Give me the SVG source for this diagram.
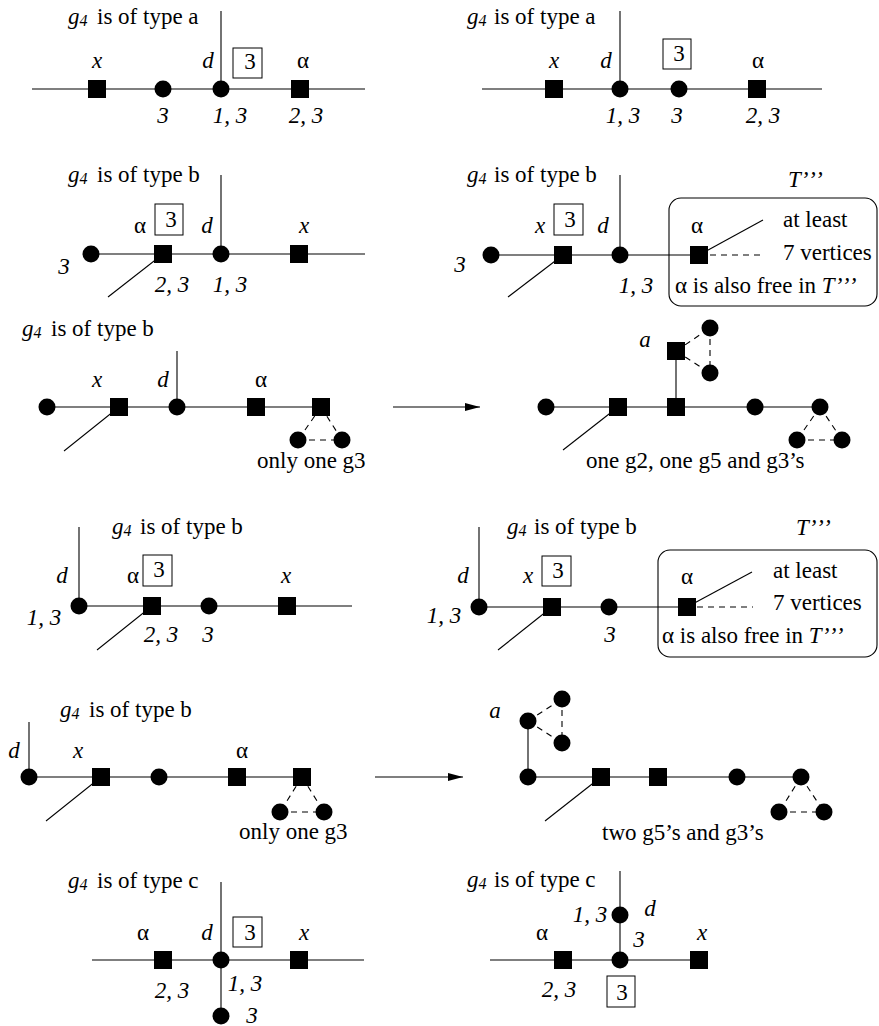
<svg xmlns="http://www.w3.org/2000/svg" xmlns:xlink="http://www.w3.org/1999/xlink" width="879" height="1026" viewBox="0 0 879 1026">
<style>
.ln{stroke:#000;stroke-width:1.1;fill:none}
.ds{stroke:#000;stroke-width:1.1;fill:none;stroke-dasharray:6,5}
.bx{fill:none;stroke:#000;stroke-width:1}
.rb{fill:none;stroke:#000;stroke-width:1.1}
text{font-family:'Liberation Serif','Times New Roman',serif;font-size:23px;fill:#000}
.i{font-style:italic}
.m{text-anchor:middle}
.s{font-size:16px;font-style:italic}
.p{letter-spacing:2px}
</style>
<defs>
<rect id="sq" x="-9" y="-9" width="18" height="18" fill="#000"/>
<circle id="ci" r="8.5" fill="#000"/>
<marker id="ar" markerWidth="16" markerHeight="10" refX="15" refY="5" orient="auto" markerUnits="userSpaceOnUse"><path d="M0,1 L15,5 L0,9 Z" fill="#000"/></marker>
</defs>

<g id="connectors">
<line class="ln" x1="32" y1="89" x2="365" y2="89"/>
<line class="ln" x1="221" y1="11" x2="221" y2="89"/>
<line class="ln" x1="482" y1="89" x2="822" y2="89"/>
<line class="ln" x1="620" y1="11" x2="620" y2="89"/>
<line class="ln" x1="91" y1="254" x2="365" y2="254"/>
<line class="ln" x1="221" y1="175" x2="221" y2="254"/>
<line class="ln" x1="163" y1="254" x2="108" y2="297"/>
<line class="ln" x1="491" y1="255" x2="699" y2="255"/>
<line class="ln" x1="620" y1="175" x2="620" y2="255"/>
<line class="ln" x1="563" y1="255" x2="508" y2="297"/>
<line class="ln" x1="699" y1="255" x2="763" y2="220"/>
<line class="ds" x1="710" y1="255" x2="765" y2="255"/>
<line class="ln" x1="47" y1="407" x2="321" y2="407"/>
<line class="ln" x1="177" y1="351" x2="177" y2="407"/>
<line class="ln" x1="119" y1="407" x2="64" y2="451"/>
<line class="ds" x1="321" y1="407" x2="298" y2="440"/>
<line class="ds" x1="321" y1="407" x2="342" y2="440"/>
<line class="ds" x1="298" y1="440" x2="342" y2="440"/>
<line class="ln" x1="393" y1="407" x2="480" y2="407" marker-end="url(#ar)"/>
<line class="ln" x1="546" y1="407" x2="820" y2="407"/>
<line class="ln" x1="676" y1="351" x2="676" y2="407"/>
<line class="ln" x1="618" y1="407" x2="563" y2="450"/>
<line class="ds" x1="676" y1="351" x2="710" y2="328"/>
<line class="ds" x1="676" y1="351" x2="710" y2="373"/>
<line class="ds" x1="710" y1="328" x2="710" y2="373"/>
<line class="ds" x1="820" y1="407" x2="797" y2="440"/>
<line class="ds" x1="820" y1="407" x2="842" y2="440"/>
<line class="ds" x1="797" y1="440" x2="842" y2="440"/>
<line class="ln" x1="79" y1="606" x2="352" y2="606"/>
<line class="ln" x1="79" y1="527" x2="79" y2="606"/>
<line class="ln" x1="152" y1="606" x2="97" y2="650"/>
<line class="ln" x1="479" y1="607" x2="687" y2="607"/>
<line class="ln" x1="479" y1="527" x2="479" y2="607"/>
<line class="ln" x1="552" y1="607" x2="498" y2="650"/>
<line class="ln" x1="687" y1="607" x2="752" y2="572"/>
<line class="ds" x1="697" y1="607" x2="753" y2="607"/>
<line class="ln" x1="29" y1="777" x2="302" y2="777"/>
<line class="ln" x1="29" y1="722" x2="29" y2="777"/>
<line class="ln" x1="101" y1="777" x2="46" y2="821"/>
<line class="ds" x1="302" y1="777" x2="280" y2="812"/>
<line class="ds" x1="302" y1="777" x2="324" y2="812"/>
<line class="ds" x1="280" y1="812" x2="324" y2="812"/>
<line class="ln" x1="375" y1="777" x2="463" y2="777" marker-end="url(#ar)"/>
<line class="ln" x1="528" y1="777" x2="801" y2="777"/>
<line class="ln" x1="528" y1="721" x2="528" y2="777"/>
<line class="ln" x1="601" y1="777" x2="545" y2="821"/>
<line class="ds" x1="528" y1="721" x2="562" y2="699"/>
<line class="ds" x1="528" y1="721" x2="562" y2="743"/>
<line class="ds" x1="562" y1="699" x2="562" y2="743"/>
<line class="ds" x1="801" y1="777" x2="779" y2="812"/>
<line class="ds" x1="801" y1="777" x2="824" y2="812"/>
<line class="ds" x1="779" y1="812" x2="824" y2="812"/>
<line class="ln" x1="92" y1="960" x2="364" y2="960"/>
<line class="ln" x1="221" y1="882" x2="221" y2="1016"/>
<line class="ln" x1="490" y1="960" x2="699" y2="960"/>
<line class="ln" x1="620" y1="871" x2="620" y2="960"/>
</g>

<g id="p1">
<use xlink:href="#sq" x="97" y="89"/><use xlink:href="#ci" x="163" y="89"/><use xlink:href="#ci" x="221" y="89"/><use xlink:href="#sq" x="300" y="89"/>
<text x="68" y="24"><tspan class="i">g</tspan><tspan class="s" dy="2">4</tspan><tspan x="97" dy="-2">is of type a</tspan></text>
<text class="i m" x="97" y="68">x</text><text class="i m" x="208" y="68">d</text>
<rect class="bx" x="233" y="48" width="29" height="30"/><text class="m" x="250" y="69">3</text>
<text class="m" x="303" y="68">α</text>
<text class="i m" x="163" y="123">3</text><text class="i m" x="230" y="123">1, 3</text><text class="i m" x="306" y="123">2, 3</text>
</g>

<g id="p2">
<use xlink:href="#sq" x="554" y="89"/><use xlink:href="#ci" x="620" y="89"/><use xlink:href="#ci" x="679" y="89"/><use xlink:href="#sq" x="757" y="89"/>
<text x="467" y="24"><tspan class="i">g</tspan><tspan class="s" dy="2">4</tspan><tspan x="494" dy="-2">is of type a</tspan></text>
<text class="i m" x="554" y="68">x</text><text class="i m" x="606" y="68">d</text>
<rect class="bx" x="663" y="39" width="28" height="30"/><text class="m" x="679" y="61">3</text>
<text class="m" x="758" y="68">α</text>
<text class="i m" x="623" y="123">1, 3</text><text class="i m" x="677" y="123">3</text><text class="i m" x="763" y="123">2, 3</text>
</g>

<g id="p3">
<use xlink:href="#ci" x="91" y="254"/><use xlink:href="#sq" x="163" y="254"/><use xlink:href="#ci" x="221" y="254"/><use xlink:href="#sq" x="299" y="254"/>
<text x="68" y="182"><tspan class="i">g</tspan><tspan class="s" dy="2">4</tspan><tspan x="97" dy="-2">is of type b</tspan></text>
<text class="m" x="140" y="233">α</text>
<rect class="bx" x="155" y="204" width="28" height="31"/><text class="m" x="171" y="227">3</text>
<text class="i m" x="207" y="233">d</text><text class="i m" x="304" y="233">x</text>
<text class="i m" x="64" y="274">3</text><text class="i m" x="172" y="292">2, 3</text><text class="i m" x="230" y="292">1, 3</text>
</g>

<g id="p4">
<rect class="rb" x="669" y="198" width="208" height="108" rx="12"/>
<use xlink:href="#ci" x="491" y="255"/><use xlink:href="#sq" x="563" y="255"/><use xlink:href="#ci" x="620" y="255"/><use xlink:href="#sq" x="699" y="255"/>
<text x="467" y="182"><tspan class="i">g</tspan><tspan class="s" dy="2">4</tspan><tspan x="494" dy="-2">is of type b</tspan></text>
<text class="i" x="788" y="187">T<tspan class="p">’’’</tspan></text>
<text class="i m" x="540" y="233">x</text>
<rect class="bx" x="554" y="204" width="29" height="31"/><text class="m" x="570" y="227">3</text>
<text class="i m" x="603" y="233">d</text><text class="m" x="697" y="233">α</text>
<text x="783" y="227">at least</text><text x="783" y="260">7 vertices</text>
<text x="675" y="293">α is also free in <tspan class="i">T</tspan><tspan class="i p">’’’</tspan></text>
<text class="i m" x="460" y="272">3</text><text class="i m" x="636" y="293">1, 3</text>
</g>

<g id="p5">
<use xlink:href="#ci" x="47" y="407"/><use xlink:href="#sq" x="119" y="407"/><use xlink:href="#ci" x="177" y="407"/><use xlink:href="#sq" x="256" y="407"/><use xlink:href="#sq" x="321" y="407"/>
<use xlink:href="#ci" x="298" y="440"/><use xlink:href="#ci" x="342" y="440"/>
<text x="22" y="336"><tspan class="i">g</tspan><tspan class="s" dy="2">4</tspan><tspan x="51" dy="-2">is of type b</tspan></text>
<text class="i m" x="97" y="387">x</text><text class="i m" x="163" y="387">d</text><text class="m" x="261" y="387">α</text>
<text x="257" y="468">only one g3</text>
</g>

<g id="p6">
<use xlink:href="#ci" x="546" y="407"/><use xlink:href="#sq" x="618" y="407"/><use xlink:href="#sq" x="676" y="407"/><use xlink:href="#ci" x="755" y="407"/><use xlink:href="#ci" x="820" y="407"/>
<use xlink:href="#sq" x="676" y="351"/><use xlink:href="#ci" x="710" y="328"/><use xlink:href="#ci" x="710" y="373"/>
<use xlink:href="#ci" x="797" y="440"/><use xlink:href="#ci" x="842" y="440"/>
<text class="i m" x="645" y="347">a</text>
<text x="586" y="468">one g2, one g5 and g3’s</text>
</g>

<g id="p7">
<use xlink:href="#ci" x="79" y="606"/><use xlink:href="#sq" x="152" y="606"/><use xlink:href="#ci" x="209" y="606"/><use xlink:href="#sq" x="287" y="606"/>
<text x="112" y="534"><tspan class="i">g</tspan><tspan class="s" dy="2">4</tspan><tspan x="140" dy="-2">is of type b</tspan></text>
<text class="i m" x="62" y="583">d</text><text class="m" x="133" y="583">α</text>
<rect class="bx" x="143" y="555" width="29" height="31"/><text class="m" x="159" y="577">3</text>
<text class="i m" x="286" y="583">x</text>
<text class="i m" x="44" y="625">1, 3</text><text class="i m" x="161" y="642">2, 3</text><text class="i m" x="208" y="642">3</text>
</g>

<g id="p8">
<rect class="rb" x="658" y="550" width="219" height="107" rx="12"/>
<use xlink:href="#ci" x="479" y="607"/><use xlink:href="#sq" x="552" y="607"/><use xlink:href="#ci" x="609" y="607"/><use xlink:href="#sq" x="687" y="607"/>
<text x="507" y="534"><tspan class="i">g</tspan><tspan class="s" dy="2">4</tspan><tspan x="534" dy="-2">is of type b</tspan></text>
<text class="i" x="796" y="535">T<tspan class="p">’’’</tspan></text>
<text class="i m" x="463" y="583">d</text><text class="i m" x="528" y="583">x</text>
<rect class="bx" x="542" y="556" width="29" height="30"/><text class="m" x="558" y="578">3</text>
<text class="m" x="687" y="584">α</text>
<text x="773" y="578">at least</text><text x="773" y="610">7 vertices</text>
<text x="662" y="643">α is also free in <tspan class="i">T</tspan><tspan class="i p">’’’</tspan></text>
<text class="i m" x="444" y="623">1, 3</text><text class="i m" x="610" y="642">3</text>
</g>

<g id="p9">
<use xlink:href="#ci" x="29" y="777"/><use xlink:href="#sq" x="101" y="777"/><use xlink:href="#ci" x="159" y="777"/><use xlink:href="#sq" x="237" y="777"/><use xlink:href="#sq" x="302" y="777"/>
<use xlink:href="#ci" x="280" y="812"/><use xlink:href="#ci" x="324" y="812"/>
<text x="60" y="717"><tspan class="i">g</tspan><tspan class="s" dy="2">4</tspan><tspan x="89" dy="-2">is of type b</tspan></text>
<text class="i m" x="14" y="758">d</text><text class="i m" x="78" y="758">x</text><text class="m" x="242" y="758">α</text>
<text x="239" y="839">only one g3</text>
</g>

<g id="p10">
<use xlink:href="#ci" x="528" y="777"/><use xlink:href="#sq" x="601" y="777"/><use xlink:href="#sq" x="658" y="777"/><use xlink:href="#ci" x="737" y="777"/><use xlink:href="#ci" x="801" y="777"/>
<use xlink:href="#ci" x="528" y="721"/><use xlink:href="#ci" x="562" y="699"/><use xlink:href="#ci" x="562" y="743"/>
<use xlink:href="#ci" x="779" y="812"/><use xlink:href="#ci" x="824" y="812"/>
<text class="i m" x="495" y="718">a</text>
<text x="602" y="840">two g5’s and g3’s</text>
</g>

<g id="p11">
<use xlink:href="#sq" x="163" y="960"/><use xlink:href="#ci" x="221" y="960"/><use xlink:href="#sq" x="299" y="960"/><use xlink:href="#ci" x="221" y="1016"/>
<text x="68" y="888"><tspan class="i">g</tspan><tspan class="s" dy="2">4</tspan><tspan x="97" dy="-2">is of type c</tspan></text>
<text class="m" x="143" y="940">α</text><text class="i m" x="207" y="940">d</text>
<rect class="bx" x="233" y="917" width="29" height="30"/><text class="m" x="250" y="940">3</text>
<text class="i m" x="304" y="940">x</text>
<text class="i m" x="172" y="998">2, 3</text><text class="i m" x="245" y="991">1, 3</text><text class="i m" x="252" y="1023">3</text>
</g>

<g id="p12">
<use xlink:href="#ci" x="620" y="915"/><use xlink:href="#sq" x="563" y="960"/><use xlink:href="#ci" x="620" y="960"/><use xlink:href="#sq" x="699" y="960"/>
<text x="467" y="887"><tspan class="i">g</tspan><tspan class="s" dy="2">4</tspan><tspan x="494" dy="-2">is of type c</tspan></text>
<text class="i m" x="590" y="922">1, 3</text><text class="i m" x="650" y="916">d</text><text class="i m" x="639" y="947">3</text>
<text class="m" x="542" y="940">α</text><text class="i m" x="702" y="940">x</text>
<text class="i m" x="559" y="997">2, 3</text>
<rect class="bx" x="607" y="976" width="28" height="31"/><text class="m" x="622" y="1000">3</text>
</g>
</svg>
